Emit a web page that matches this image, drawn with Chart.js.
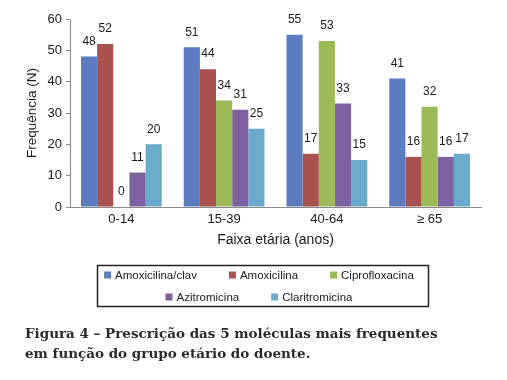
<!DOCTYPE html>
<html>
<head>
<meta charset="utf-8">
<script src="https://cdn.jsdelivr.net/npm/chart.js@4"></script>
<style>
  body { margin: 0; background: #fff; }
  #wrap { position: relative; width: 507px; height: 380px; }
  #caption {
    position: absolute; left: 25px; top: 323px;
    font-family: "DejaVu Serif", serif; font-weight: bold;
    font-size: 13.5px; line-height: 20px; color: #2a2a2a;
  }
</style>
</head>
<body>
<div id="wrap">
  <canvas id="myChart" width="507" height="380"></canvas>
  <div id="caption">Figura 4 – Prescrição das 5 moléculas mais frequentes<br>em função do grupo etário do doente.</div>
</div>
<script>
let ageGroups = ["0-14", "15-39", "40-64", "≥ 65"];
let drugNames = ["Amoxicilina/clav", "Amoxicilina", "Ciprofloxacina", "Azitromicina", "Claritromicina"];
let drugColors = ["#5b7cbf", "#a8514e", "#9bbb59", "#7c62a0", "#6aabca"];
let amoxClav = [48, 51, 55, 41];
let amox = [52, 44, 17, 16];
let cipro = [0, 34, 53, 32];
let azitro = [11, 31, 33, 16];
let claritro = [20, 25, 15, 17];
let yTicks = [0, 10, 20, 30, 40, 50, 60];

let seriesValues = [amoxClav, amox, cipro, azitro, claritro];

// numeros por cima das barras
const barLabels = {
  id: 'barLabels',
  afterDatasetsDraw(chart) {
    const ctx = chart.ctx;
    ctx.save();
    ctx.font = '12px "Liberation Sans", Arial, sans-serif';
    ctx.fillStyle = '#1a1a1a';
    ctx.textAlign = 'center';
    ctx.textBaseline = 'bottom';
    chart.data.datasets.forEach((ds, i) => {
      chart.getDatasetMeta(i).data.forEach((bar, j) => {
        ctx.fillText(ds.data[j], bar.x, bar.y - 9);
      });
    });
    ctx.restore();
  }
};

// legenda com caixa, 3 + 2 itens
const boxLegend = {
  id: 'boxLegend',
  afterDraw(chart) {
    const ctx = chart.ctx;
    const rows = [[0, 1, 2], [3, 4]];
    const cx = 259, gap = 32, box = 7;
    ctx.save();
    ctx.font = '11.5px "Liberation Sans", Arial, sans-serif';
    ctx.textBaseline = 'middle';
    ctx.strokeStyle = '#222';
    ctx.lineWidth = 1.5;
    ctx.strokeRect(97.5, 265.5, 331, 41);
    rows.forEach((row, r) => {
      const y = 275 + r * 22;
      const widths = row.map(i => box + 4 + ctx.measureText(chart.data.datasets[i].label).width);
      const total = widths.reduce((a, b) => a + b, 0) + gap * (row.length - 1);
      let x = cx - total / 2;
      row.forEach((i, k) => {
        const ds = chart.data.datasets[i];
        ctx.fillStyle = ds.backgroundColor;
        ctx.fillRect(x, y - box / 2, box, box);
        ctx.fillStyle = '#1a1a1a';
        ctx.fillText(ds.label, x + box + 4, y + 0.5);
        x += widths[k] + gap;
      });
    });
    ctx.restore();
  }
};

let ctx = document.getElementById('myChart').getContext('2d');

const myChart = new Chart(ctx, {
  type: 'bar',
  data: {
    labels: ageGroups,
    datasets: drugNames.map((name, i) => ({
      label: name,
      data: seriesValues[i],
      backgroundColor: drugColors[i],
      borderWidth: 0
    }))
  },
  options: {
    responsive: false,
    animation: false,
    categoryPercentage: 0.786,
    barPercentage: 1,
    layout: { padding: { top: 19, left: 0, right: 26, bottom: 123 } },
    plugins: {
      legend: { display: false },
      tooltip: { enabled: false }
    },
    scales: {
      x: {
        afterFit: s => { s.height = 50; },
        grid: { display: false, drawTicks: false },
        border: { display: true, color: '#8a8a8a', width: 1 },
        ticks: { color: '#1a1a1a', padding: 5, font: { size: 13, family: '"Liberation Sans", Arial' } },
        title: {
          display: true,
          text: 'Faixa etária (anos)',
          color: '#1a1a1a',
          font: { size: 14, family: '"Liberation Sans", Arial' },
          padding: { top: 0, bottom: 8 }
        }
      },
      y: {
        min: 0,
        max: 60,
        afterFit: s => { s.width = 70; },
        afterBuildTicks: s => { s.ticks = yTicks.map(v => ({ value: v })); },
        grid: { display: true, drawOnChartArea: false, drawTicks: true, tickLength: 4, color: '#8a8a8a' },
        border: { display: true, color: '#8a8a8a', width: 1 },
        ticks: { color: '#1a1a1a', padding: 4, font: { size: 13, family: '"Liberation Sans", Arial' } },
        title: {
          display: true,
          text: 'Frequência (N)',
          color: '#1a1a1a',
          font: { size: 13.5, family: '"Liberation Sans", Arial' },
          padding: { top: 24, bottom: 0 }
        }
      }
    }
  },
  plugins: [barLabels, boxLegend]
});
</script>
</body>
</html>
